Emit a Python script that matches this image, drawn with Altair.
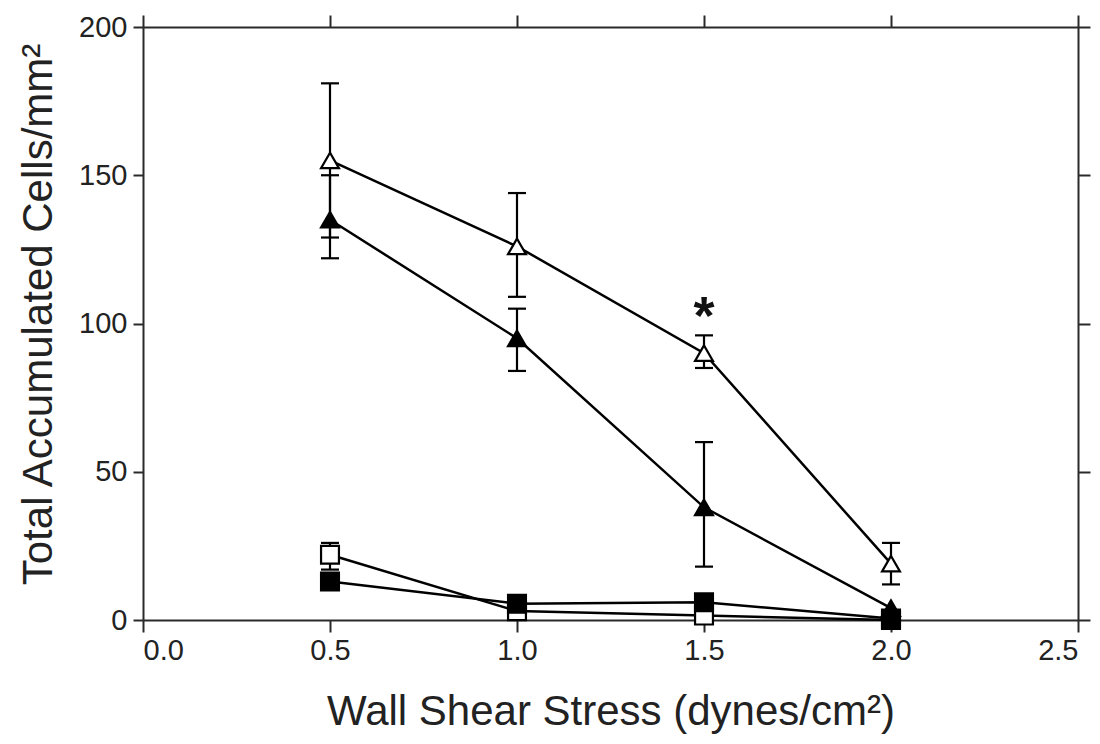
import altair as alt
import pandas as pd

# ---- data ----
x_vals = [0.5, 1.0, 1.5, 2.0]
series_names = ["open_tri", "filled_tri", "open_sq", "filled_sq"]

open_tri_mean = [155, 126, 90, 19]
open_tri_lo = [129, 109, 85, 12]
open_tri_hi = [181, 144, 96, 26]

filled_tri_mean = [135, 95, 38, 4]
filled_tri_lo = [122, 84, 18, 4]
filled_tri_hi = [150, 105, 60, 4]

open_sq_mean = [22, 3, 1.5, 0]
open_sq_lo = [17, 3, 1.5, 0]
open_sq_hi = [26, 3, 1.5, 0]

filled_sq_mean = [13, 5.5, 6, 0.5]
filled_sq_lo = [10.5, 5.5, 6, 0.5]
filled_sq_hi = [15.5, 5.5, 6, 0.5]

x_ticks = [0.0, 0.5, 1.0, 1.5, 2.0, 2.5]
y_ticks = [0, 50, 100, 150, 200]

star_x = [1.5]
star_y = [106]
star_text = ["*"]

means = [open_tri_mean, filled_tri_mean, open_sq_mean, filled_sq_mean]
los = [open_tri_lo, filled_tri_lo, open_sq_lo, filled_sq_lo]
his = [open_tri_hi, filled_tri_hi, open_sq_hi, filled_sq_hi]

rows = []
for name, m, lo, hi in zip(series_names, means, los, his):
    for xv, mv, lv, hv in zip(x_vals, m, lo, hi):
        rows.append({"series": name, "x": xv, "y": mv, "lo": lv, "hi": hv})
df = pd.DataFrame(rows)
df_err = df[df["hi"] > df["lo"]]
df_star = pd.DataFrame({"x": star_x, "y": star_y, "t": star_text})

FONT = "Liberation Sans"
AX_COLOR = "#2a2a2a"
TXT_COLOR = "#222222"

x_scale = alt.Scale(domain=[0, 2.5], nice=False, zero=False)
y_scale = alt.Scale(domain=[0, 200], nice=False, zero=False)

x_axis = alt.Axis(
    values=x_ticks, format=".1f", title="Wall Shear Stress (dynes/cm²)",
    grid=False, domainColor=AX_COLOR, domainWidth=2, tickColor=AX_COLOR,
    tickWidth=2, tickSize=12, labelFont=FONT, labelFontSize=29,
    labelColor=TXT_COLOR, labelPadding=4, titleFont=FONT, titleFontSize=42,
    titleFontWeight="normal", titleColor=TXT_COLOR, titlePadding=26,
)
y_axis = alt.Axis(
    values=y_ticks, format="d", title="Total Accumulated Cells/mm²",
    grid=False, domainColor=AX_COLOR, domainWidth=2, tickColor=AX_COLOR,
    tickWidth=2, tickSize=10, labelFont=FONT, labelFontSize=29,
    labelColor=TXT_COLOR, labelPadding=6, titleFont=FONT, titleFontSize=42,
    titleFontWeight="normal", titleColor=TXT_COLOR, titlePadding=18, titleY=287,
)

X = alt.X("x:Q", scale=x_scale, axis=x_axis)
Y = alt.Y("y:Q", scale=y_scale, axis=y_axis)

base = alt.Chart(df)

lines = base.mark_line(color="black", strokeWidth=2.5).encode(
    x=X, y=Y, detail="series:N", order="x:Q"
)

err = alt.Chart(df_err).mark_rule(color="black", strokeWidth=2.2).encode(
    x=X, y=alt.Y("lo:Q", scale=y_scale, axis=y_axis), y2="hi:Q"
)
cap_hi = alt.Chart(df_err).mark_rule(color="black", strokeWidth=2.2, xOffset=-9, x2Offset=9).encode(
    x=X, x2="x:Q", y=alt.Y("hi:Q", scale=y_scale, axis=y_axis)
)
cap_lo = alt.Chart(df_err).mark_rule(color="black", strokeWidth=2.2, xOffset=-9, x2Offset=9).encode(
    x=X, x2="x:Q", y=alt.Y("lo:Q", scale=y_scale, axis=y_axis)
)

points = base.mark_point(filled=True, stroke="black", strokeWidth=2.2, opacity=1, size=320).encode(
    x=X, y=Y,
    shape=alt.Shape("series:N", scale=alt.Scale(
        domain=series_names,
        range=["triangle-up", "triangle-up", "square", "square"]), legend=None),
    fill=alt.Fill("series:N", scale=alt.Scale(
        domain=series_names, range=["white", "black", "white", "black"]), legend=None),
)

star = alt.Chart(df_star).mark_text(
    font=FONT, fontSize=54, fontWeight="bold", color="#111", baseline="alphabetic", dy=28
).encode(x=X, y=Y, text="t:N")

main = alt.layer(lines, err, cap_hi, cap_lo, points, star)

frame = alt.Chart(df_star).mark_point(opacity=0).encode(
    x=alt.X("x:Q", scale=x_scale, axis=alt.Axis(
        orient="top", values=x_ticks, labels=False, title=None, grid=False,
        domainColor=AX_COLOR, domainWidth=2, tickColor=AX_COLOR, tickWidth=2, tickSize=12)),
    y=alt.Y("y:Q", scale=y_scale, axis=alt.Axis(
        orient="right", values=y_ticks, labels=False, title=None, grid=False,
        domainColor=AX_COLOR, domainWidth=2, tickColor=AX_COLOR, tickWidth=2, tickSize=12)),
)

chart = alt.layer(main, frame).resolve_axis(x="independent", y="independent").properties(
    width=935, height=593,
    autosize=alt.AutoSizeParams(type="none"),
    padding={"left": 135, "top": 19, "right": 14, "bottom": 115},
    background="white",
).configure_view(stroke=None)

chart.save("out.html", embed_options={"renderer": "svg", "actions": False})
